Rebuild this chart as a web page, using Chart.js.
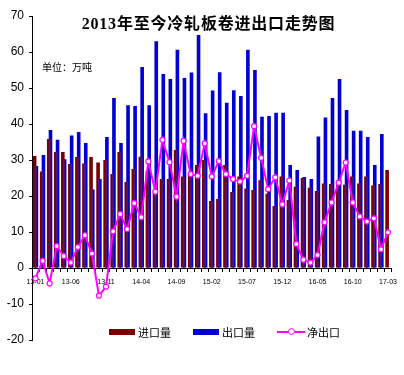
<!DOCTYPE html>
<html>
<head>
<meta charset="utf-8">
<script src="https://cdn.jsdelivr.net/npm/chart.js@4.4.1/dist/chart.umd.min.js"></script>
<style>
  body { margin: 0; background: #fff; }
  #wrap { position: relative; width: 404px; height: 375px; }
  #title {
    position: absolute; left: 0; width: 417px; top: 10px;
    text-align: center; line-height: 16px;
    font: bold 16px "Liberation Serif", "Noto Sans CJK SC", serif;
    letter-spacing: 0.8px; color: #000;
  }
  #unit {
    position: absolute; left: 42px; top: 59px; line-height: 10px;
    font: 10px "Noto Sans CJK SC", sans-serif; color: #000;
  }
  #legend { position: absolute; left: 109px; top: 325px; display: flex; }
  .item { width: 84px; height: 14px; display: flex; align-items: center; }
  .item span { font: 11px "Noto Sans CJK SC", sans-serif; color: #000; line-height: 14px; }
  .box { width: 26px; height: 6px; margin-right: 3px; }
  .line { position: relative; width: 28px; height: 2px; margin-right: 2px; }
  .line i {
    position: absolute; left: 11px; top: -3px; width: 5px; height: 5px;
    border-radius: 50%; background: #fff; border: 1px solid #ff00ff;
  }
</style>
</head>
<body>
<div id="wrap">
  <canvas id="chart" width="404" height="375"></canvas>
  <div id="title">2013年至今冷轧板卷进出口走势图</div>
  <div id="unit">单位：万吨</div>
  <div id="legend"></div>
</div>
<script>
const months = [
  '13-01','13-02','13-03','13-04','13-05','13-06','13-07','13-08','13-09','13-10','13-11','13-12',
  '14-01','14-02','14-03','14-04','14-05','14-06','14-07','14-08','14-09','14-10','14-11','14-12',
  '15-01','15-02','15-03','15-04','15-05','15-06','15-07','15-08','15-09','15-10','15-11','15-12',
  '16-01','16-02','16-03','16-04','16-05','16-06','16-07','16-08','16-09','16-10','16-11','16-12',
  '17-01','17-02','17-03'
];
const shownTicks = ['13-01','13-06','13-11','14-04','14-09','15-02','15-07','15-12','16-05','16-10','17-03'];

// 万吨
const importVol = [
  31.1, 26.8, 35.8, 32.2, 32.2, 28.9, 30.8, 29.0, 30.8, 29.3, 30.0, 26.1,
  32.2, 23.9, 27.5, 30.9, 27.0, 21.5, 24.7, 24.7, 32.8, 25.4, 26.1, 28.6,
  30.0, 18.6, 19.2, 28.6, 21.1, 25.4, 22.1, 21.7, 24.4, 20.6, 17.2, 25.4,
  18.9, 22.6, 25.0, 22.3, 21.4, 23.5, 23.3, 23.1, 23.1, 25.4, 23.5, 25.4,
  22.9, 23.3, 27.2
];
const exportVol = [
  28.3, 31.4, 38.3, 35.6, 30.2, 36.8, 37.8, 34.7, 21.8, 24.7, 36.4, 47.2,
  34.7, 45.2, 45.0, 55.8, 45.2, 63.0, 53.9, 52.5, 60.6, 52.8, 54.3, 64.7,
  43.0, 49.3, 54.4, 45.9, 49.4, 47.8, 60.6, 55.0, 42.0, 42.2, 43.1, 43.1,
  28.6, 27.2, 25.3, 24.7, 36.5, 41.8, 47.2, 52.5, 43.9, 38.1, 38.1, 36.4,
  28.6, 37.2, null
];
const netExport = [
  -2.9, 2.0, -4.3, 6.1, 3.3, 1.5, 5.8, 9.1, 4.0, -7.7, -5.2, 10.2,
  15.0, 10.8, 18.0, 14.1, 29.6, 21.2, 35.6, 29.4, 19.8, 35.3, 26.1, 25.6,
  34.6, 25.4, 29.7, 26.1, 24.7, 24.0, 25.6, 39.4, 30.6, 21.9, 25.2, 17.7,
  24.3, 6.7, 2.3, 1.5, 3.6, 12.7, 18.2, 23.7, 29.3, 18.2, 14.3, 12.9,
  13.8, 5.2, 9.9
];

const RED = '#7a0000';
const BLUE = '#0000d4';
const PURPLE = '#45187a';
const PINK = '#ff00ff';

// where the two bars overlap, paint the mixed colour
const overlapPlugin = {
  id: 'overlap',
  afterDatasetDraw(chart, args) {
    if (args.index !== 0) return;
    const red = chart.getDatasetMeta(0).data;
    const blue = chart.getDatasetMeta(1).data;
    const ctx = chart.ctx;
    ctx.save();
    ctx.fillStyle = PURPLE;
    red.forEach((r, i) => {
      const b = blue[i];
      if (!b || importVol[i] == null || exportVol[i] == null) return;
      const left = b.x - b.width / 2;
      const right = r.x + r.width / 2;
      const top = Math.max(r.y, b.y);
      ctx.fillRect(left, top, right - left, r.base - top);
    });
    ctx.restore();
  }
};

const chart = new Chart(document.getElementById('chart'), {
  type: 'bar',
  data: {
    labels: months,
    datasets: [
      {
        label: '进口量',
        data: importVol,
        backgroundColor: RED,
        borderWidth: 0,
        categoryPercentage: 0.5,
        barPercentage: 2.06,
        order: 1
      },
      {
        label: '出口量',
        data: exportVol,
        backgroundColor: BLUE,
        borderWidth: 0,
        categoryPercentage: 0.5,
        barPercentage: 2.06,
        order: 1
      },
      {
        type: 'line',
        label: '净出口',
        data: netExport,
        borderColor: PINK,
        borderWidth: 2,
        pointRadius: 2.5,
        pointBackgroundColor: '#fff',
        pointBorderColor: PINK,
        pointBorderWidth: 1.2,
        tension: 0,
        order: 0
      }
    ]
  },
  options: {
    responsive: false,
    animation: false,
    layout: { padding: { top: 16, right: 5, bottom: 35, left: 0 } },
    plugins: {
      legend: { display: false },
      tooltip: { enabled: false }
    },
    scales: {
      x: {
        position: { y: 0 },
        grid: { offset: true, drawOnChartArea: false, drawTicks: true, tickLength: 3, color: '#000' },
        border: { display: true, color: '#000', width: 1 },
        ticks: {
          autoSkip: false,
          maxRotation: 0,
          padding: 7,
          color: '#000',
          font: { family: 'Liberation Sans', size: 7 },
          callback: (v, i) => shownTicks.includes(months[i]) ? months[i] : ''
        }
      },
      y: {
        min: -20,
        max: 70,
        afterFit: s => { s.width = 32; },
        grid: { drawOnChartArea: false, drawTicks: true, tickLength: 3, color: '#000' },
        border: { display: true, color: '#000', width: 1 },
        ticks: {
          stepSize: 10,
          padding: 5,
          color: '#000',
          font: { family: 'Liberation Sans', size: 12 }
        }
      }
    }
  },
  plugins: [overlapPlugin]
});

// legend built from the datasets
const legend = document.getElementById('legend');
chart.data.datasets.forEach(ds => {
  const item = document.createElement('div');
  item.className = 'item';
  if (ds.type === 'line') {
    item.innerHTML = '<div class="line" style="background:' + ds.borderColor + '"><i></i></div>';
  } else {
    item.innerHTML = '<div class="box" style="background:' + ds.backgroundColor + '"></div>';
  }
  const t = document.createElement('span');
  t.textContent = ds.label;
  item.appendChild(t);
  legend.appendChild(item);
});
</script>
</body>
</html>
